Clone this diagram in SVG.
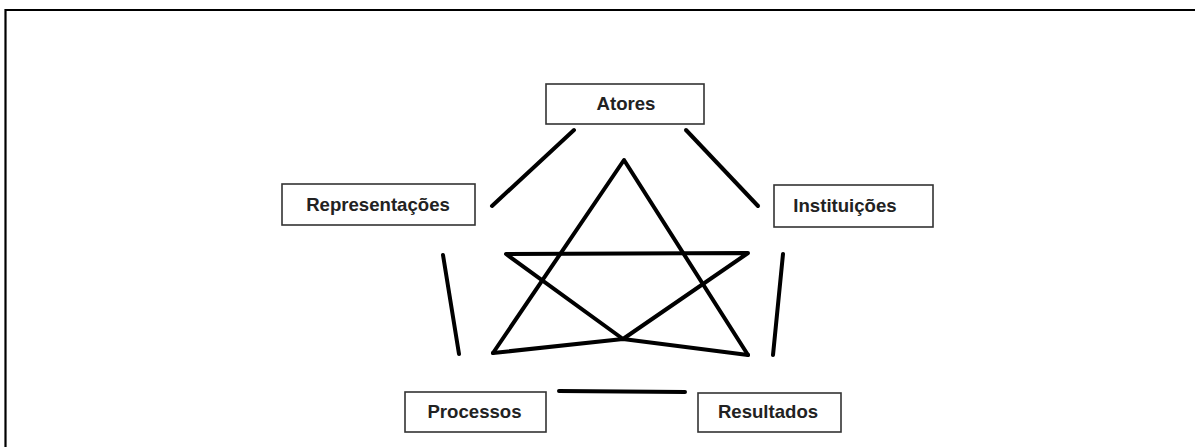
<svg xmlns="http://www.w3.org/2000/svg" width="1195" height="447" viewBox="0 0 1195 447">
<style>
.box{fill:#fff;stroke:#333;stroke-width:1.6}
.lbl{font-family:"Liberation Sans",Arial,sans-serif;font-weight:bold;font-size:18.6px;fill:#222;text-anchor:middle}
.ln{stroke:#000;stroke-width:4;stroke-linecap:round;stroke-linejoin:round;fill:none}
</style>
<rect width="1195" height="447" fill="#fff"/>
<path d="M5.5,447 V10 H1195" fill="none" stroke="#000" stroke-width="2.2"/>
<g id="connectors">
<line class="ln" x1="574" y1="130" x2="492" y2="206"/>
<line class="ln" x1="686" y1="130" x2="758" y2="206"/>
<line class="ln" x1="443" y1="255" x2="459" y2="354"/>
<line class="ln" x1="783" y1="254" x2="773" y2="355"/>
<line class="ln" x1="559" y1="391" x2="685" y2="392"/>
</g>
<g id="star">
<path class="ln" d="M493,353 L624,160 L748,355"/>
<path class="ln" d="M506,254 L748,253 L623,339 Z"/>
<path class="ln" d="M493,353 L623,339 L748,355"/>
</g>
<g id="atores">
<rect class="box" x="546" y="84" width="158" height="40"/>
<text class="lbl" x="626" y="110">Atores</text>
</g>
<g id="representacoes">
<rect class="box" x="282" y="184" width="193" height="41"/>
<text class="lbl" x="378" y="211">Representações</text>
</g>
<g id="instituicoes">
<rect class="box" x="774" y="185" width="159" height="42"/>
<text class="lbl" x="845" y="212">Instituições</text>
</g>
<g id="processos">
<rect class="box" x="405" y="392" width="141" height="40"/>
<text class="lbl" x="474.5" y="418">Processos</text>
</g>
<g id="resultados">
<rect class="box" x="698" y="393" width="143" height="39"/>
<text class="lbl" x="768" y="418">Resultados</text>
</g>
</svg>
